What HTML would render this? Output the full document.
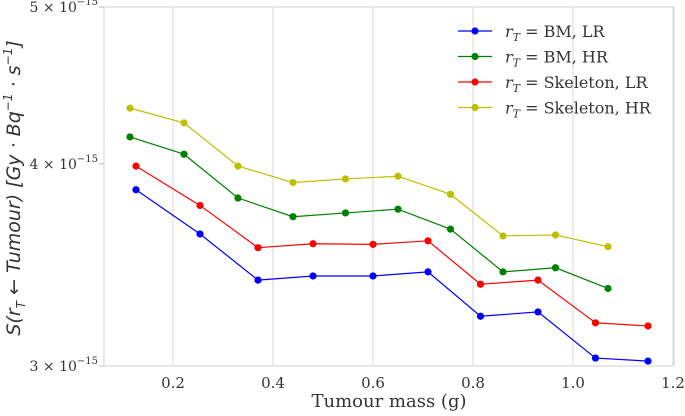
<!DOCTYPE html>
<html><head><meta charset="utf-8"><style>
body{margin:0;background:#fff;}
svg text{font-family:"DejaVu Serif","Liberation Serif",serif;fill:#333;}
</style></head><body>
<svg id="chart" width="685" height="411" xmlns="http://www.w3.org/2000/svg">
<g id="grid"></g>
<g id="axes"></g>
<g id="series"></g>
<g id="legend"></g>
</svg>
<script>
const xTicks=[0.2,0.4,0.6,0.8,1.0,1.2];
const xTickLabels=["0.2","0.4","0.6","0.8","1.0","1.2"];
const yTicks=[3e-15,4e-15,5e-15];
const yTickLabels=["3","4","5"];
const seriesNames=["BM, LR","BM, HR","Skeleton, LR","Skeleton, HR"];
const seriesColors=["#0000ff","#008000","#ff0000","#bfbf00"];
const xLR=[0.126,0.254,0.37,0.48,0.6,0.71,0.815,0.93,1.045,1.15];
const xHR=[0.114,0.222,0.33,0.44,0.545,0.65,0.755,0.86,0.965,1.07];
const bmLR=[3.855,3.62,3.39,3.41,3.41,3.43,3.22,3.24,3.034,3.021];
const bmHR=[4.156,4.055,3.81,3.71,3.73,3.75,3.645,3.43,3.45,3.35];
const skLR=[3.987,3.77,3.55,3.57,3.567,3.585,3.37,3.39,3.19,3.176];
const skHR=[4.33,4.24,3.987,3.895,3.915,3.93,3.83,3.61,3.615,3.555];
const NS="http://www.w3.org/2000/svg";
const L=104,R=674,T=7,B=366;
const xMin=0.062,xMax=1.202;
const X=v=>L+(v-xMin)/(xMax-xMin)*(R-L);
const yLo=Math.log10(3e-15),yHi=Math.log10(5e-15);
const Y=v=>B-(Math.log10(v)-yLo)/(yHi-yLo)*(B-T);
function mk(tag,attrs,parent){const e=document.createElementNS(NS,tag);for(const k in attrs)e.setAttribute(k,attrs[k]);parent.appendChild(e);return e;}
const grid=document.getElementById('grid'),axes=document.getElementById('axes'),ser=document.getElementById('series'),leg=document.getElementById('legend');
xTicks.forEach((t,i)=>{
 const x=X(t);
 const g=mk('line',{x1:x,x2:x,y1:T,y2:B,stroke:'#d9d9d9','stroke-width':1},grid);
 
 
 const tx=mk('text',{x:x,y:B+22,'text-anchor':'middle','font-size':15},axes);tx.textContent=xTickLabels[i];
 
 
});
const frame=mk('rect',{x:L,y:T,width:R-L,height:B-T,fill:'none',stroke:'#d9d9d9','stroke-width':1.2},axes);


yTicks.forEach((t,i)=>{
 const y=Y(t);
 const tk=mk('line',{x1:L-5,x2:L,y1:y,y2:y,stroke:'#bbb'},axes);
 
 
 const tx=mk('text',{x:L-6,y:y+5,'text-anchor':'end','font-size':14},axes);
 tx.innerHTML=yTickLabels[i]+' × 10<tspan dy="-7" font-size="10">−15</tspan>';
 
 
});
const xt=mk('text',{x:389,y:407,'text-anchor':'middle','font-size':18},axes);xt.textContent='Tumour mass (g)';


const yt=mk('text',{x:0,y:0,transform:'translate(20,188) rotate(-90)','text-anchor':'middle','font-size':19,'font-style':'italic',style:'font-family:"DejaVu Sans",sans-serif'},axes);
yt.innerHTML='S(r<tspan dy="5" font-size="12">T</tspan><tspan dy="-5"> ← Tumour) [Gy · Bq</tspan><tspan dy="-8" font-size="12">−1</tspan><tspan dy="8"> · s</tspan><tspan dy="-8" font-size="12">−1</tspan><tspan dy="8">]</tspan>';


const data=[[xLR,bmLR],[xHR,bmHR],[xLR,skLR],[xHR,skHR]];
data.forEach((d,s)=>{
 const g=mk('g',{},ser);
 
 
 const pts=d[0].map((x,i)=>X(x)+','+Y(d[1][i]*1e-15)).join(' ');
 const pl=mk('polyline',{points:pts,fill:'none',stroke:seriesColors[s],'stroke-width':1.2},g);
 
 
 d[0].forEach((x,i)=>{
  const c=mk('circle',{cx:X(x),cy:Y(d[1][i]*1e-15),r:3.6,fill:seriesColors[s]},g);
  
  
 });
 const ly=31+s*25.5;
 const lg=mk('g',{},leg);
 
 
 mk('line',{x1:458,x2:492,y1:ly,y2:ly,stroke:seriesColors[s],'stroke-width':1.2},lg);
 mk('circle',{cx:475,cy:ly,r:3.6,fill:seriesColors[s]},lg);
 const t=mk('text',{x:505,y:ly+6,'font-size':16},lg);
 t.innerHTML='<tspan font-style="italic">r</tspan><tspan dy="4" font-size="11" font-style="italic">T</tspan><tspan dy="-4"> = '+seriesNames[s]+'</tspan>';
});
</script>
</body></html>
